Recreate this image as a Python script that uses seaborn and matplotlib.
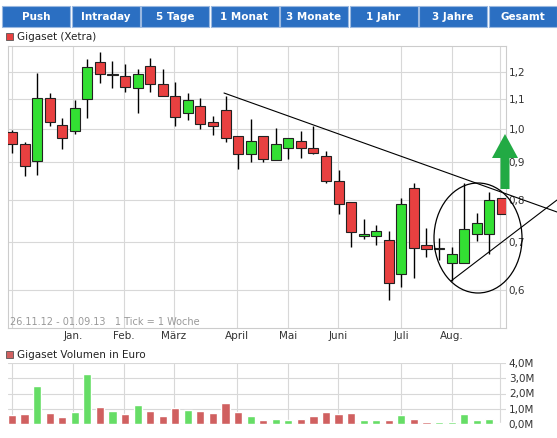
import numpy as np
import pandas as pd
import matplotlib
matplotlib.use("Agg")
import matplotlib.pyplot as plt
import seaborn as sns
from matplotlib.patches import Ellipse, FancyArrow, Rectangle

opens = [0.99,0.953,0.903,1.104,1.013,0.995,1.10,1.237,1.188,1.183,1.139,1.222,1.154,1.111,1.052,1.076,1.022,1.062,0.978,0.924,
         0.978,0.906,0.941,0.963,0.941,0.918,0.848,0.793,0.712,0.712,0.703,0.631,0.829,0.692,0.683,0.655,0.653,0.716,0.716,0.803]
closes = [0.953,0.89,1.104,1.022,0.972,1.069,1.22,1.192,1.188,1.143,1.191,1.154,1.111,1.039,1.097,1.016,1.011,0.974,0.924,0.963,
          0.909,0.953,0.972,0.941,0.929,0.848,0.788,0.722,0.716,0.725,0.613,0.79,0.687,0.683,0.687,0.674,0.728,0.742,0.798,0.763]
highs = [0.998,0.96,1.195,1.121,1.036,1.098,1.25,1.277,1.243,1.231,1.21,1.253,1.21,1.163,1.123,1.104,1.043,1.112,0.978,1.033,
         0.978,1.003,0.972,0.995,1.011,0.933,0.879,0.793,0.751,0.739,0.723,0.803,0.842,0.732,0.709,0.689,0.842,0.766,0.819,0.803]
lows = [0.928,0.862,0.866,1.011,0.938,0.984,1.036,1.16,1.141,1.127,1.052,1.127,1.111,1.01,1.03,1.0,0.982,0.961,0.881,0.902,
        0.902,0.906,0.91,0.912,0.924,0.842,0.763,0.688,0.706,0.693,0.582,0.606,0.623,0.667,0.661,0.618,0.653,0.702,0.674,0.763]
volumes = [0.56,0.63,2.46,0.70,0.43,0.79,3.28,1.11,0.84,0.63,1.24,0.84,0.50,1.04,0.90,0.84,0.70,1.38,0.77,0.50,
           0.29,0.36,0.23,0.36,0.50,0.77,0.63,0.70,0.23,0.23,0.29,0.56,0.36,0.16,0.16,0.16,0.63,0.29,0.36,0.09]
month_labels = ["Jan.","Feb.","März","April","Mai","Juni","Juli","Aug."]
month_pos = [4.86,8.92,12.9,17.9,22.0,25.95,31.0,35.0]
price_ticks = [0.6,0.7,0.8,0.9,1.0,1.1,1.2]
vol_ticks = [0,1,2,3,4]
tabs = ["Push","Intraday","5 Tage","1 Monat","3 Monate","1 Jahr","3 Jahre","Gesamt"]

W, H = 557, 438
fig = plt.figure(figsize=(W/100, H/100), dpi=100)
sns.set_style("white")
plt.rcParams['font.family'] = ['DejaVu Sans']

def ax_px(x0, y0, x1, y1):
    return fig.add_axes([x0/W, 1-y1/H, (x1-x0)/W, (y1-y0)/H])

# tabs
tw = 68
for i, t in enumerate(tabs):
    x = 2 + i*(tw+1.5)
    fig.patches.append(Rectangle((x/W, 1-27/H), tw/W, 21/H, transform=fig.transFigure,
                                 facecolor="#2b6fc2", edgecolor="#9ab8e0", lw=0.8))
    fig.text((x+tw/2)/W, 1-16.5/H, t, color="white", fontsize=7.5, fontweight="bold", ha="center", va="center")

df = pd.DataFrame({"i": np.arange(len(opens)), "o": opens, "c": closes, "h": highs, "l": lows, "v": volumes})
df["up"] = df.c >= df.o

ax = ax_px(8, 46, 506, 328)
ax.set_yscale("log")
ax.set_ylim(0.532, 1.303)
ax.set_xlim(-0.32, 39.33)
for y in price_ticks:
    ax.axhline(y, color="#d8d8d8", lw=0.8, zorder=0)
for x in [0] + month_pos + [38.85]:
    ax.axvline(x, color="#d8d8d8", lw=0.8, zorder=0)
ax.vlines(df.i, df.l, df.h, color="black", lw=1, zorder=2)
cols = np.where(df.up, "#33e033", "#e84040")
bot = np.minimum(df.o, df.c)
hgt = np.maximum(np.abs(df.c - df.o), 0.004)
ax.bar(df.i, hgt, bottom=bot, width=0.8, color=cols, edgecolor="#222222", lw=0.8, zorder=3)
ax.yaxis.tick_right()
ax.set_yticks(price_ticks)
ax.set_yticklabels([f"{v:.1f}".replace(".", ",") for v in price_ticks], fontsize=7.5, color="#333333")
ax.yaxis.set_minor_locator(matplotlib.ticker.NullLocator())
ax.set_xticks(month_pos)
ax.set_xticklabels(month_labels, fontsize=7.5, color="#333333")
ax.tick_params(length=0, pad=2)
for s in ax.spines.values():
    s.set_color("#cccccc"); s.set_linewidth(0.8)
ax.text(0.005, 0.01, "26.11.12 - 01.09.13   1 Tick = 1 Woche", transform=ax.transAxes, fontsize=7, color="#999999")

fig.patches.append(Rectangle((6/W, 1-40/H), 7/W, 7/H, transform=fig.transFigure, facecolor="#e84040", edgecolor="#555555", lw=0.6))
fig.text(17/W, 1-36.5/H, "Gigaset (Xetra)", fontsize=7.5, va="center", color="#222222")

def P(x, y):
    return (x/W, 1-y/H)
fig.lines.append(plt.Line2D(*zip(P(224, 93), P(557, 212)), transform=fig.transFigure, color="black", lw=0.8))
fig.lines.append(plt.Line2D(*zip(P(451, 281), P(557, 200)), transform=fig.transFigure, color="black", lw=0.8))
fig.patches.append(Ellipse(P(478, 238), 88/W, 110/H, transform=fig.transFigure, fill=False, edgecolor="black", lw=0.9))
fig.patches.append(FancyArrow(505/W, 1-189/H, 0, 55/H, width=9/W, head_width=26/W, head_length=24/H,
                              length_includes_head=True, transform=fig.transFigure, color="#22aa44", lw=0))

fig.patches.append(Rectangle((6/W, 1-358/H), 7/W, 7/H, transform=fig.transFigure, facecolor="#d06060", edgecolor="#555555", lw=0.6))
fig.text(17/W, 1-354.5/H, "Gigaset Volumen in Euro", fontsize=7.5, va="center", color="#222222")
ax2 = ax_px(8, 363, 506, 424)
ax2.set_xlim(-0.32, 39.33)
ax2.set_ylim(0, 4.0)
for y in vol_ticks:
    ax2.axhline(y, color="#d8d8d8", lw=0.8, zorder=0)
for x in [0] + month_pos + [38.85]:
    ax2.axvline(x, color="#d8d8d8", lw=0.8, zorder=0)
vcols = ["#66dd66" if u else "#d06060" for u in df.up]
sns.barplot(data=df, x="i", y="v", hue="i", palette=vcols, legend=False, native_scale=True,
            width=0.65, ax=ax2, zorder=3, saturation=1)
ax2.set_xlim(-0.32, 39.33)
ax2.set_xlabel(""); ax2.set_ylabel("")
ax2.set_xticks([])
ax2.yaxis.tick_right()
ax2.set_yticks(vol_ticks)
ax2.set_yticklabels([f"{v},0M" for v in vol_ticks], fontsize=7.5, color="#333333")
ax2.tick_params(length=0, pad=2)
for s in ax2.spines.values():
    s.set_visible(False)

fig.savefig("out.png", dpi=100)
